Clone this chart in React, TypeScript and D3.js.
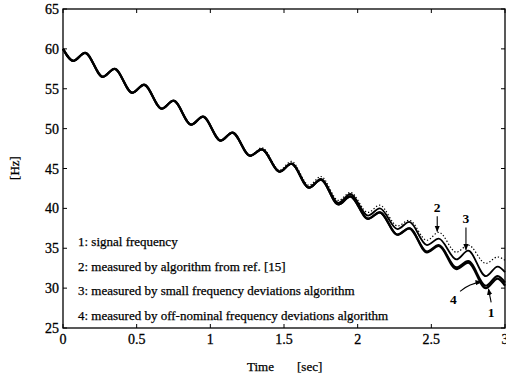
import React from "react";
import * as d3 from "d3";

// times of the extrema (sec)
const times = [0, 0.07, 0.15, 0.27, 0.35, 0.47, 0.55, 0.67, 0.75, 0.87, 0.95, 1.07, 1.15, 1.27, 1.35, 1.47,
  1.55, 1.67, 1.75, 1.87, 1.95, 2.07, 2.15, 2.27, 2.35, 2.47, 2.55, 2.67, 2.75, 2.87, 2.95, 3.0];

// 1: signal frequency
const signal = [60, 58.5, 59.5, 56.5, 57.5, 54.5, 55.5, 52.5, 53.5, 50.5, 51.5, 48.5, 49.5, 46.6, 47.4, 44.6,
  45.6, 42.6, 43.6, 40.5, 41.5, 38.7, 39.5, 36.7, 37.5, 34.5, 35.3, 32.4, 33.2, 30.0, 31.2, 30.3];
// 2: algorithm from ref. [15]
const ref15 = [60, 58.5, 59.5, 56.5, 57.5, 54.5, 55.5, 52.5, 53.5, 50.5, 51.5, 48.5, 49.5, 46.6, 47.6, 44.8,
  45.9, 42.9, 44.0, 41.0, 42.0, 39.5, 40.4, 37.8, 38.5, 36.0, 37.0, 34.5, 35.4, 33.1, 33.9, 33.5];
// 3: small frequency deviations algorithm
const smallDev = [60, 58.5, 59.5, 56.5, 57.5, 54.5, 55.5, 52.5, 53.5, 50.5, 51.5, 48.5, 49.5, 46.6, 47.4, 44.6,
  45.6, 42.6, 43.7, 40.7, 41.8, 39.1, 40.0, 37.4, 38.3, 35.4, 36.2, 33.6, 34.7, 31.5, 32.7, 32.0];
// 4: off-nominal frequency deviations algorithm
const offNominal = [60, 58.5, 59.5, 56.5, 57.5, 54.5, 55.5, 52.5, 53.5, 50.5, 51.5, 48.5, 49.5, 46.6, 47.4, 44.6,
  45.6, 42.6, 43.6, 40.5, 41.5, 38.7, 39.5, 36.7, 37.5, 34.6, 35.4, 32.6, 33.4, 30.3, 31.5, 30.7];

const xTicks = [0, 0.5, 1, 1.5, 2, 2.5, 3];
const xTickLabels = ["0", "0.5", "1", "1.5", "2", "2.5", "3"];
const yTicks = [25, 30, 35, 40, 45, 50, 55, 60, 65];

const legendLines = [
  "1: signal frequency",
  "2: measured by algorithm from ref. [15]",
  "3: measured by small frequency deviations algorithm",
  "4: measured by off-nominal frequency deviations algorithm",
];

const width = 506,
  height = 377;
const font = "'Liberation Serif', 'Times New Roman', serif";

export default function App() {
  const x = d3.scaleLinear().domain([0, 3]).range([63, 505]);
  const y = d3.scaleLinear().domain([25, 65]).range([328, 9]);

  const line = d3
    .line<number>()
    .x((d, i) => x(times[i]))
    .y(d => y(d))
    .curve(d3.curveMonotoneX);

  const series = [
    { vals: ref15, w: 1.2, dash: "1.3 2" },
    { vals: smallDev, w: 1.8, dash: null },
    { vals: offNominal, w: 2.1, dash: null },
    { vals: signal, w: 2.3, dash: null },
  ];

  // curved pointer for label 4
  const p4 = d3.path();
  p4.moveTo(x(2.695), y(29.6));
  p4.quadraticCurveTo(x(2.76), y(30.6), x(2.84), y(30.75));

  const [x0, x1] = x.range();
  const [y0, y1] = y.range();

  return (
    <svg width={width} height={height} style={{ position: "absolute", left: 0, top: 0, background: "#fff" }}>
      <defs>
        <marker id="ah" viewBox="0 0 10 10" refX="9" refY="5" markerWidth="6" markerHeight="6" orient="auto">
          <path d="M0,1 L10,5 L0,9 z" fill="#000" />
        </marker>
      </defs>

      {/* frame */}
      <rect x={x0} y={y1} width={x1 - x0} height={y0 - y1} fill="none" stroke="#000" strokeWidth={1.3} />

      {/* ticks */}
      {xTicks.map(t => (
        <g key={"x" + t}>
          <line x1={x(t)} x2={x(t)} y1={y0} y2={y0 - 4} stroke="#000" />
          <line x1={x(t)} x2={x(t)} y1={y1} y2={y1 + 4} stroke="#000" />
        </g>
      ))}
      {yTicks.map(t => (
        <g key={"y" + t}>
          <line x1={x0} x2={x0 + 4} y1={y(t)} y2={y(t)} stroke="#000" />
          <line x1={x1} x2={x1 - 4} y1={y(t)} y2={y(t)} stroke="#000" />
        </g>
      ))}

      {/* tick labels */}
      <g fontFamily={font} fontSize={14} fill="#000" stroke="#000" strokeWidth={0.3}>
        {xTicks.map((t, i) => (
          <text key={"xl" + t} x={x(t)} y={344} textAnchor="middle">
            {xTickLabels[i]}
          </text>
        ))}
        {yTicks.map(t => (
          <text key={"yl" + t} x={59} y={y(t) + 5} textAnchor="end">
            {t}
          </text>
        ))}
      </g>

      {/* axis titles */}
      <g fontFamily={font} fontSize={13} fill="#000" stroke="#000" strokeWidth={0.25}>
        <text x={247} y={371}>Time</text>
        <text x={297} y={371}>[sec]</text>
        <text transform="translate(19,168) rotate(-90)" textAnchor="middle">[Hz]</text>
      </g>

      {/* curves */}
      {series.map((s, i) => (
        <path
          key={i}
          d={line(s.vals) || ""}
          fill="none"
          stroke="#000"
          strokeWidth={s.w}
          strokeDasharray={s.dash || undefined}
        />
      ))}

      {/* legend text */}
      <g fontFamily={font} fontSize={13} fill="#000" stroke="#000" strokeWidth={0.25}>
        {legendLines.map((l, i) => (
          <text key={l} x={78} y={246 + i * 24.5}>
            {l}
          </text>
        ))}
      </g>

      {/* annotations */}
      <g fontFamily={font} fontSize={13.5} fontWeight="bold" fill="#000" textAnchor="middle">
        <text x={x(2.54)} y={y(39.55)}>2</text>
        <text x={x(2.735)} y={y(38.2)}>3</text>
        <text x={x(2.65)} y={y(28.0)}>4</text>
        <text x={x(2.905)} y={y(26.4)}>1</text>
      </g>
      <g stroke="#000" strokeWidth={1.1} fill="none">
        <line x1={x(2.54)} y1={y(39.0)} x2={x(2.54)} y2={y(37.1)} markerEnd="url(#ah)" />
        <line x1={x(2.735)} y1={y(37.6)} x2={x(2.735)} y2={y(34.8)} markerEnd="url(#ah)" />
        <path d={p4.toString()} markerEnd="url(#ah)" />
        <line x1={x(2.906)} y1={y(28.2)} x2={x(2.888)} y2={y(29.9)} markerEnd="url(#ah)" />
      </g>
    </svg>
  );
}
